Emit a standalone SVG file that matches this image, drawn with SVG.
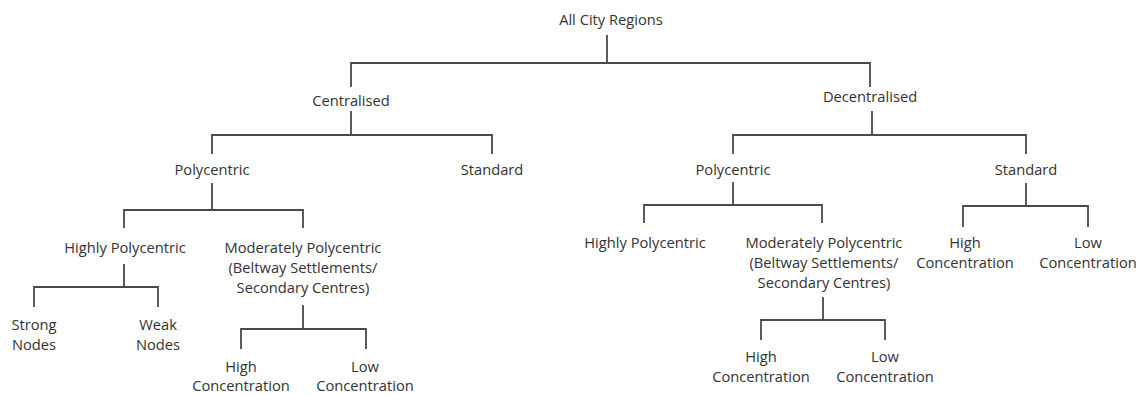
<svg xmlns="http://www.w3.org/2000/svg" width="1141" height="394" viewBox="0 0 1141 394">
<style>
text{font-family:"Open Sans","Noto Sans",sans-serif;font-size:14.7px;fill:#333;text-anchor:middle}
.c{fill:none;stroke:#4a4a4a;stroke-width:1.8}
</style>
<rect width="1141" height="394" fill="#fff"/>
<g id="connectors" class="c">
<path d="M607,35V63M351,87V63H870V87"/>
<path d="M351,111V135M212,154V135H492V154"/>
<path d="M872,111V135M733,154V135H1026V154"/>
<path d="M212,183V210M124,228V210H303V228"/>
<path d="M124,264V287M34,307V287H158V307"/>
<path d="M303,305V329M241,349V329H366V349"/>
<path d="M733,182V205M644,223V205H822V223"/>
<path d="M823,297V320M761,340V320H885V340"/>
<path d="M1026,183V206M963,227V206H1088V227"/>
</g>
<g id="root"><text x="611" y="25">All City Regions</text></g>
<g id="centralised"><text x="351" y="106">Centralised</text></g>
<g id="decentralised"><text x="870" y="102">Decentralised</text></g>
<g id="c-polycentric"><text x="212" y="175">Polycentric</text></g>
<g id="c-standard"><text x="492" y="175">Standard</text></g>
<g id="d-polycentric"><text x="733" y="175">Polycentric</text></g>
<g id="d-standard"><text x="1026" y="175">Standard</text></g>
<g id="c-highly"><text x="125" y="253">Highly Polycentric</text></g>
<g id="c-moderately"><text x="303" y="253">Moderately Polycentric</text><text x="303" y="273">(Beltway Settlements/</text><text x="303" y="293">Secondary Centres)</text></g>
<g id="c-strong"><text x="34" y="330">Strong</text><text x="34" y="350">Nodes</text></g>
<g id="c-weak"><text x="158" y="330">Weak</text><text x="158" y="350">Nodes</text></g>
<g id="c-high"><text x="241" y="372">High</text><text x="241" y="391">Concentration</text></g>
<g id="c-low"><text x="365" y="372">Low</text><text x="365" y="391">Concentration</text></g>
<g id="d-highly"><text x="645" y="248">Highly Polycentric</text></g>
<g id="d-moderately"><text x="824" y="248">Moderately Polycentric</text><text x="824" y="268">(Beltway Settlements/</text><text x="824" y="288">Secondary Centres)</text></g>
<g id="d-mod-high"><text x="761" y="362">High</text><text x="761" y="382">Concentration</text></g>
<g id="d-mod-low"><text x="885" y="362">Low</text><text x="885" y="382">Concentration</text></g>
<g id="d-std-high"><text x="965" y="248">High</text><text x="965" y="268">Concentration</text></g>
<g id="d-std-low"><text x="1088" y="248">Low</text><text x="1088" y="268">Concentration</text></g>
</svg>
